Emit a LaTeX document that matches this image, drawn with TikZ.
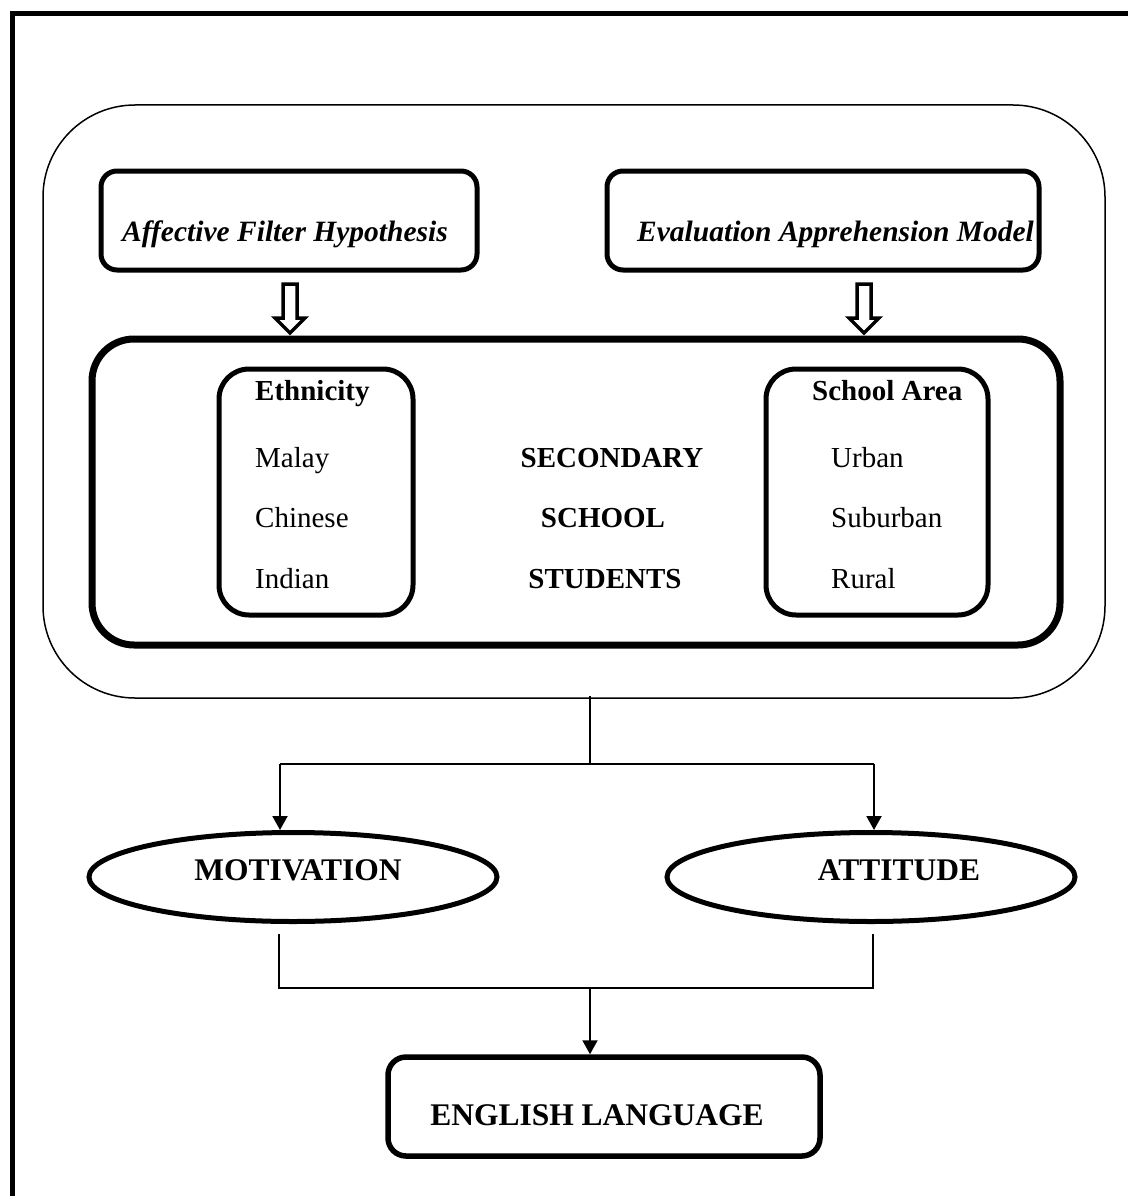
\documentclass[tikz,border=0pt]{standalone}
\usepackage{fontspec}
\setmainfont{Liberation Serif}
\usetikzlibrary{shapes.geometric,arrows.meta}
\tikzset{
  boxline/.style={draw, line width=5pt, rounded corners=16pt, inner sep=0pt},
  conn/.style={line width=2pt},
  arrowconn/.style={line width=2pt, -{Triangle[length=14pt,width=15pt]}},
  hollowarrow/.style={draw, line width=3.5pt, fill=white, line join=miter},
  smalltxt/.style={inner sep=0pt, font=\fontsize{29}{34}\selectfont},
  bigtxt/.style={inner sep=0pt, font=\fontsize{31.5}{36}\selectfont\bfseries},
  oval/.style={draw, ellipse, line width=5pt, inner sep=0pt},
}
\begin{document}
\begin{tikzpicture}[x=1pt,y=-1pt]
\useasboundingbox (0,0) rectangle (1128,1196);
% outer frame (cut at right and bottom)
\draw[line width=5pt] (12,1196) -- (12,14) -- (1128,14);

% big rounded container
\node[draw, line width=1.5pt, rounded corners=92pt, minimum width=1062pt, minimum height=593pt, inner sep=0pt] (outer) at (574,401.5) {};

% top boxes
\node[boxline, minimum width=376pt, minimum height=99pt] (afh) at (289,220.5) {};
\node[smalltxt, anchor=base west, font=\fontsize{29.5}{34}\selectfont\bfseries\itshape] (afhtxt) at (122,241) {Affective Filter Hypothesis};
\node[boxline, minimum width=432pt, minimum height=99pt] (eam) at (823,220.5) {};
\node[smalltxt, anchor=base west, font=\fontsize{29.5}{34}\selectfont\bfseries\itshape] (eamtxt) at (637,241) {Evaluation Apprehension Model};

% thick students box
\node[draw, line width=7pt, rounded corners=42pt, minimum width=968pt, minimum height=306pt, inner sep=0pt] (stud) at (576,492) {};

% hollow arrows
\draw[hollowarrow] (283,284) -- (297,284) -- (297,318) -- (305,318) -- (290,333) -- (275,318) -- (283,318) -- cycle;
\draw[hollowarrow] (857,284) -- (871,284) -- (871,318) -- (879,318) -- (864,333) -- (849,318) -- (857,318) -- cycle;

% ethnicity box
\node[draw, line width=5pt, rounded corners=30pt, minimum width=194pt, minimum height=246pt, inner sep=0pt] (eth) at (316,492) {};
\node[smalltxt, anchor=base west, font=\fontsize{29}{34}\selectfont\bfseries] (ethh) at (255,400) {Ethnicity};
\node[smalltxt, anchor=base west] (malay) at (255,467) {Malay};
\node[smalltxt, anchor=base west] (chinese) at (255,527) {Chinese};
\node[smalltxt, anchor=base west] (indian) at (255,588) {Indian};

% school area box
\node[draw, line width=5pt, rounded corners=30pt, minimum width=222pt, minimum height=246pt, inner sep=0pt] (area) at (877,492) {};
\node[smalltxt, anchor=base west, font=\fontsize{29}{34}\selectfont\bfseries] (areah) at (812,400) {School Area};
\node[smalltxt, anchor=base west] (urban) at (831,467) {Urban};
\node[smalltxt, anchor=base west] (suburban) at (831,527) {Suburban};
\node[smalltxt, anchor=base west] (rural) at (831,588) {Rural};

% center text
\node[smalltxt, anchor=base, font=\fontsize{29}{34}\selectfont\bfseries] (sec) at (612,467) {SECONDARY};
\node[smalltxt, anchor=base, font=\fontsize{29}{34}\selectfont\bfseries] (sch) at (603,527) {SCHOOL};
\node[smalltxt, anchor=base, font=\fontsize{29}{34}\selectfont\bfseries] (stu) at (605,588) {STUDENTS};

% ellipses
\node[oval, minimum width=408pt, minimum height=89pt] (mot) at (293,877) {};
\node[bigtxt, anchor=base] (mottxt) at (298,880) {MOTIVATION};
\node[oval, minimum width=408pt, minimum height=89pt] (att) at (871,877) {};
\node[bigtxt, anchor=base] (atttxt) at (899,880) {ATTITUDE};

% english box
\node[draw, line width=5.5pt, rounded corners=18pt, minimum width=432pt, minimum height=99pt, inner sep=0pt] (eng) at (604,1106.5) {};
\node[bigtxt, anchor=base] (engtxt) at (597,1125) {ENGLISH LANGUAGE};

% connectors
\coordinate (split) at (590,764);
\coordinate (lt) at (280,764);
\coordinate (rt) at (874,764);
\draw[conn] (outer.south -| split) ++(0,-3) -- (split);
\draw[conn] (lt) -- (rt);
\draw[arrowconn] (lt) -- (lt |- mot.north);
\draw[arrowconn] (rt) -- (rt |- att.north);

\coordinate (lb) at (279,988);
\coordinate (rb) at (873,988);
\coordinate (mb) at (590,988);
\draw[conn, shorten <=10pt, shorten >=10pt] (lb |- mot.south) -- (lb) -- (rb) -- (rb |- att.south);
\draw[arrowconn] (mb) -- (mb |- eng.north);
\end{tikzpicture}
\end{document}
